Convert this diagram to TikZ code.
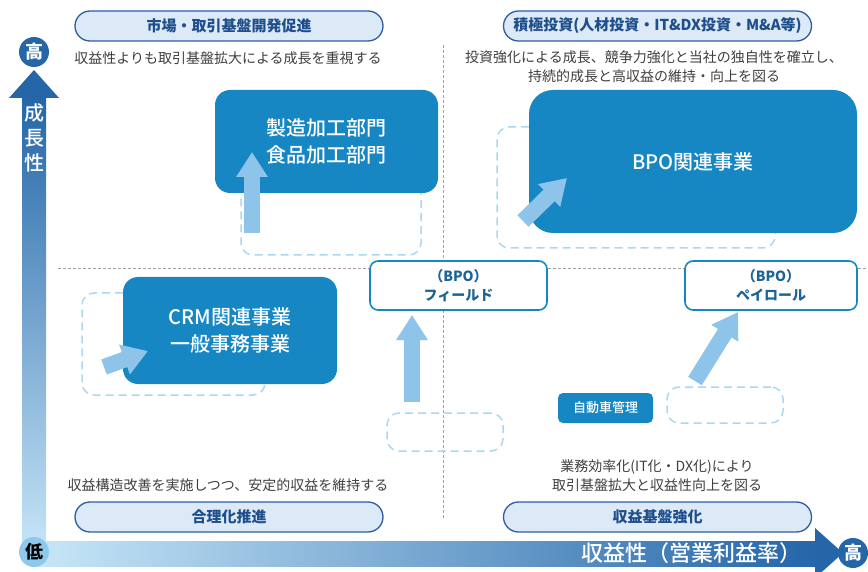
\documentclass[tikz,border=0pt]{standalone}
\usepackage{fontspec}
\setmainfont{Noto Sans CJK JP}
\newfontfamily\jpmed{Noto Sans CJK JP Medium}
\usetikzlibrary{arrows.meta}
\definecolor{boxblue}{HTML}{1787C4}
\definecolor{pillfill}{HTML}{DCE9F7}
\definecolor{pillborder}{HTML}{2D5EA3}
\definecolor{pilltext}{HTML}{1F4E8C}
\definecolor{wtext}{HTML}{1C6495}
\definecolor{dashblue}{HTML}{AAD8F1}
\definecolor{arrowfill}{HTML}{8EC3EA}
\definecolor{bodygray}{HTML}{3F3F3F}
\definecolor{axisdark}{HTML}{2466A8}
\definecolor{axismid}{HTML}{6E9FCB}
\definecolor{axislight}{HTML}{C8E7F8}
\definecolor{lowcirc}{HTML}{8CC9EC}
\definecolor{gridgray}{HTML}{A0A0A0}
\tikzset{
  bluebox/.style={fill=boxblue, text=white, font=\jpmed\fontsize{20}{27}\selectfont, align=center, inner sep=0pt},
  pill/.style={draw=pillborder, fill=pillfill, line width=1.3pt, rounded corners=15pt, font=\bfseries\fontsize{15}{18}\selectfont, text=pilltext, minimum width=308pt, minimum height=30pt, inner sep=0pt},
  wbox/.style={draw=boxblue, fill=white, line width=1.6pt, rounded corners=8pt, text=wtext, font=\bfseries\fontsize{14}{19}\selectfont, align=center, minimum height=49pt, inner sep=0pt},
  dbox/.style={draw=dashblue, dash pattern=on 8pt off 5pt, line width=1.5pt, rounded corners=12pt, inner sep=0pt},
  fat/.style={draw=arrowfill, line width=16pt, -{Triangle[length=25pt,width=30pt]}},
  bodytext/.style={text=bodygray, font=\fontsize{14}{19}\selectfont, align=center, inner sep=0pt},
  grid/.style={draw=gridgray, dash pattern=on 3pt off 2pt, line width=0.9pt},
  circ/.style={circle, minimum size=30pt, inner sep=0pt, font=\bfseries\fontsize{18}{18}\selectfont}
}
\begin{document}
\begin{tikzpicture}[x=1pt,y=-1pt]
\useasboundingbox (0,0) rectangle (868,572);
\fill[white] (0,0) rectangle (868,572);

% grid lines
\coordinate (hl) at (58,268); \coordinate (hr) at (868,268);
\coordinate (vt) at (443,45); \coordinate (vb) at (443,520);
\draw[grid] (hl) -- (hr);
\draw[grid] (vt) -- (vb);

% axes
\shade[top color=axisdark, bottom color=axismid] (22,97) rectangle (46,300);
\shade[top color=axismid, bottom color=axislight] (22,299) rectangle (46,556);
\fill[axisdark] (9,98) -- (59,98) -- (34,70) -- cycle;
\shade[left color=axislight, right color=axisdark] (34,541) rectangle (816,566);
\fill[axisdark] (815,528) -- (843,553) -- (815,578) -- cycle;
\node[circ, fill=axisdark, text=white] (hiY) at (34,52) {高};
\node[circ, fill=lowcirc, text=black] (lo) at (34,552) {低};
\node[circ, fill=axisdark, text=white] (hiX) at (853,553) {高};
\node[text=white, font=\jpmed\fontsize{20}{25}\selectfont, align=center, inner sep=0pt] (ylab) at (34,138) {成\\長\\性};
\node[text=white, font=\jpmed\fontsize{22}{24}\selectfont, anchor=east, inner sep=0pt] (xlab) at (802,553) {収益性（営業利益率）};

% pills
\node[pill] (p1) at (229,26) {市場・取引基盤開発促進};
\node[pill] (p2) at (657.5,26) {積極投資(人材投資・IT\&DX投資・M\&A等)};
\node[pill] (p3) at (229,517) {合理化推進};
\node[pill] (p4) at (657.5,517) {収益基盤強化};

% body texts
\node[bodytext] (t1) at (228,58) {収益性よりも取引基盤拡大による成長を重視する};
\node[bodytext] (t2) at (654,67) {投資強化による成長、競争力強化と当社の独自性を確立し、\\持続的成長と高収益の維持・向上を図る};
\node[bodytext] (t3) at (228,485) {収益構造改善を実施しつつ、安定的収益を維持する};
\node[bodytext] (t4) at (657,476) {業務効率化(IT化・DX化)により\\取引基盤拡大と収益性向上を図る};

% dashed boxes
\node[dbox, minimum width=180pt, minimum height=115pt] (dmfg) at (331,197.5) {};
\node[dbox, minimum width=278pt, minimum height=121pt] (dbpo) at (636,187.5) {};
\node[dbox, minimum width=183pt, minimum height=102pt] (dcrm) at (173.5,344) {};
\node[dbox, minimum width=116pt, minimum height=38pt] (dfield) at (445,432) {};
\node[dbox, minimum width=116pt, minimum height=36pt] (dpay) at (725,405) {};

% main boxes
\node[bluebox, rounded corners=15pt, minimum width=223pt, minimum height=103pt] (mfg) at (326.5,141.5) {製造加工部門\\食品加工部門};
\node[bluebox, rounded corners=24pt, minimum width=328pt, minimum height=143pt] (bpo) at (693,161.5) {BPO関連事業};
\node[bluebox, rounded corners=15pt, minimum width=214pt, minimum height=107pt] (crm) at (230,330.5) {CRM関連事業\\一般事務事業};
\node[wbox, minimum width=177pt] (field) at (458.5,285.5) {（BPO）\\フィールド};
\node[wbox, minimum width=172pt] (pay) at (771,285.5) {（BPO）\\ペイロール};
\node[bluebox, rounded corners=5pt, minimum width=95pt, minimum height=30pt, font=\jpmed\fontsize{13}{15}\selectfont] (car) at (605.5,408) {自動車管理};

% fat arrows
\coordinate (a1s) at (252,233); \coordinate (a1e) at (252,152);
\coordinate (a2s) at (523,221); \coordinate (a2e) at (567,178);
\coordinate (a3s) at (104,367); \coordinate (a3e) at (148,351);
\coordinate (a4s) at (412,402); \coordinate (a4e) at (412,315);
\coordinate (a5s) at (695,381); \coordinate (a5e) at (738,312);
\draw[fat] (a1s) -- (a1e);
\draw[fat] (a2s) -- (a2e);
\draw[fat] (a3s) -- (a3e);
\draw[fat] (a4s) -- (a4e);
\draw[fat] (a5s) -- (a5e);
\end{tikzpicture}
\end{document}
